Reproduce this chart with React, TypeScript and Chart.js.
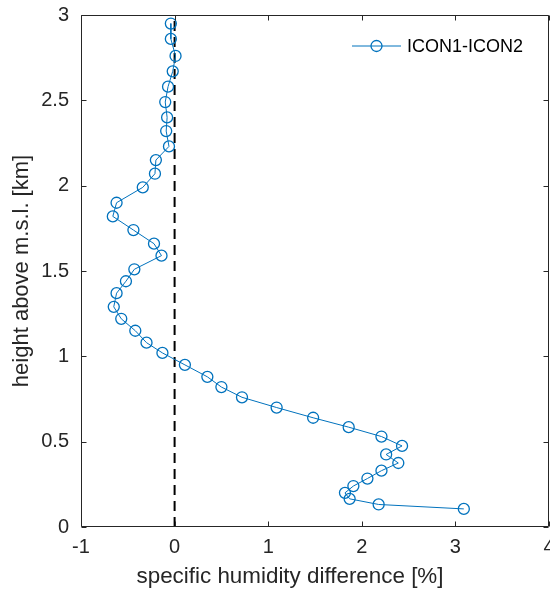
import React, { useEffect, useRef } from "react";
import { Chart, registerables } from "chart.js";

Chart.register(...registerables);

const heights = [
  2.95, 2.86, 2.76, 2.67, 2.58, 2.49, 2.40, 2.32, 2.23, 2.15, 2.07, 1.99,
  1.90, 1.82, 1.74, 1.66, 1.59, 1.51, 1.44, 1.37, 1.29, 1.22, 1.15, 1.08,
  1.02, 0.95, 0.88, 0.82, 0.76, 0.70, 0.64, 0.585, 0.53, 0.475, 0.425,
  0.375, 0.33, 0.284, 0.24, 0.20, 0.165, 0.132, 0.106,
];
const diffs = [
  -0.04, -0.04, 0.01, -0.02, -0.07, -0.10, -0.08, -0.09, -0.06, -0.20, -0.21, -0.34,
  -0.62, -0.66, -0.44, -0.22, -0.14, -0.43, -0.52, -0.62, -0.65, -0.57, -0.42, -0.30,
  -0.13, 0.11, 0.35, 0.50, 0.72, 1.09, 1.48, 1.86, 2.21, 2.43, 2.26,
  2.39, 2.21, 2.06, 1.91, 1.82, 1.87, 2.18, 3.09,
];
const seriesLabel = "ICON1-ICON2";
const zeroLine = [0, 0];
const zeroLineHeights = [0, 3];
const xTitle = "specific humidity difference [%]";
const yTitle = "height above m.s.l. [km]";

const BLUE = "#0072BD";
const AXIS = "#262626";
const FONT = "'Liberation Sans', Arial, Helvetica, sans-serif";

const boxPlugin = {
  id: "matlabBox",
  afterDraw(chart: any) {
    const { ctx, chartArea } = chart;
    const xs = chart.scales.x;
    const ys = chart.scales.y;
    const l = Math.round(chartArea.left) + 0.5;
    const r = Math.round(chartArea.right) - 0.5;
    const t = Math.round(chartArea.top) + 0.5;
    const b = Math.round(chartArea.bottom) - 0.5;
    ctx.save();
    ctx.strokeStyle = AXIS;
    ctx.lineWidth = 1;
    ctx.beginPath();
    ctx.rect(l, t, r - l, b - t);
    ctx.stroke();
    const tl = 5;
    ctx.beginPath();
    xs.ticks.forEach((tk: any) => {
      const px = Math.round(xs.getPixelForValue(tk.value)) + 0.5;
      ctx.moveTo(px, b);
      ctx.lineTo(px, b - tl);
      ctx.moveTo(px, t);
      ctx.lineTo(px, t + tl);
    });
    ys.ticks.forEach((tk: any) => {
      const py = Math.round(ys.getPixelForValue(tk.value)) + 0.5;
      ctx.moveTo(l, py);
      ctx.lineTo(l + tl, py);
      ctx.moveTo(r, py);
      ctx.lineTo(r - tl, py);
    });
    ctx.stroke();

    // x-axis title (offset like the reference)
    ctx.fillStyle = AXIS;
    ctx.font = `22.4px ${FONT}`;
    ctx.textAlign = "center";
    ctx.textBaseline = "middle";
    ctx.fillText(xTitle, 290, 577);

    // legend
    const ly = 46;
    ctx.strokeStyle = BLUE;
    ctx.lineWidth = 1;
    ctx.beginPath();
    ctx.moveTo(352, ly);
    ctx.lineTo(401, ly);
    ctx.stroke();
    ctx.beginPath();
    ctx.arc(376.5, ly, 5.5, 0, Math.PI * 2);
    ctx.lineWidth = 1.3;
    ctx.stroke();
    ctx.fillStyle = "#000";
    ctx.font = `18px ${FONT}`;
    ctx.textBaseline = "middle";
    ctx.textAlign = "left";
    ctx.fillText(seriesLabel, 407, ly + 1);
    ctx.restore();
  },
};

const fmt = (v: any) => String(Math.round(Number(v) * 10) / 10);

export default function App() {
  const ref = useRef<HTMLCanvasElement>(null);
  useEffect(() => {
    if (!ref.current) return;
    const chart = new Chart(ref.current, {
      type: "scatter",
      data: {
        datasets: [
          {
            label: "zero",
            data: zeroLine.map((x, i) => ({ x, y: zeroLineHeights[i] })),
            showLine: true,
            borderColor: "#000",
            borderWidth: 2,
            borderDash: [10, 6],
            pointRadius: 0,
            order: 2,
          },
          {
            label: seriesLabel,
            data: diffs.map((x, i) => ({ x, y: heights[i] })),
            showLine: true,
            borderColor: BLUE,
            borderWidth: 1,
            pointRadius: 5.5,
            pointBorderWidth: 1.3,
            pointBackgroundColor: "rgba(0,0,0,0)",
            pointBorderColor: BLUE,
            order: 1,
          },
        ],
      },
      options: {
        animation: false,
        responsive: false,
        maintainAspectRatio: false,
        layout: { autoPadding: false, padding: { top: 15, right: 1, left: 0, bottom: 0 } },
        plugins: { legend: { display: false }, tooltip: { enabled: false } },
        scales: {
          x: {
            type: "linear",
            min: -1,
            max: 4,
            ticks: { stepSize: 1, color: AXIS, font: { family: FONT, size: 20 }, padding: 8, callback: fmt },
            grid: { display: false, drawTicks: false },
            border: { display: false },
            title: { display: false, text: xTitle },
            afterFit: (s: any) => { s.height = 63; s.paddingLeft = 0; s.paddingRight = 0; },
          },
          y: {
            type: "linear",
            min: 0,
            max: 3,
            ticks: { stepSize: 0.5, color: AXIS, font: { family: FONT, size: 20 }, padding: 12, callback: fmt },
            grid: { display: false, drawTicks: false },
            border: { display: false },
            title: { display: true, text: yTitle, color: AXIS, font: { family: FONT, size: 22 }, padding: { top: 9, bottom: 0 } },
            afterFit: (s: any) => { s.width = 81; s.paddingTop = 0; s.paddingBottom = 0; },
          },
        },
      },
      plugins: [boxPlugin],
    });
    return () => chart.destroy();
  }, []);
  return (
    <div style={{ position: "absolute", left: 0, top: 0, width: 550, height: 590, background: "#fff" }}>
      <canvas ref={ref} width={550} height={590} style={{ width: 550, height: 590 }} />
    </div>
  );
}
